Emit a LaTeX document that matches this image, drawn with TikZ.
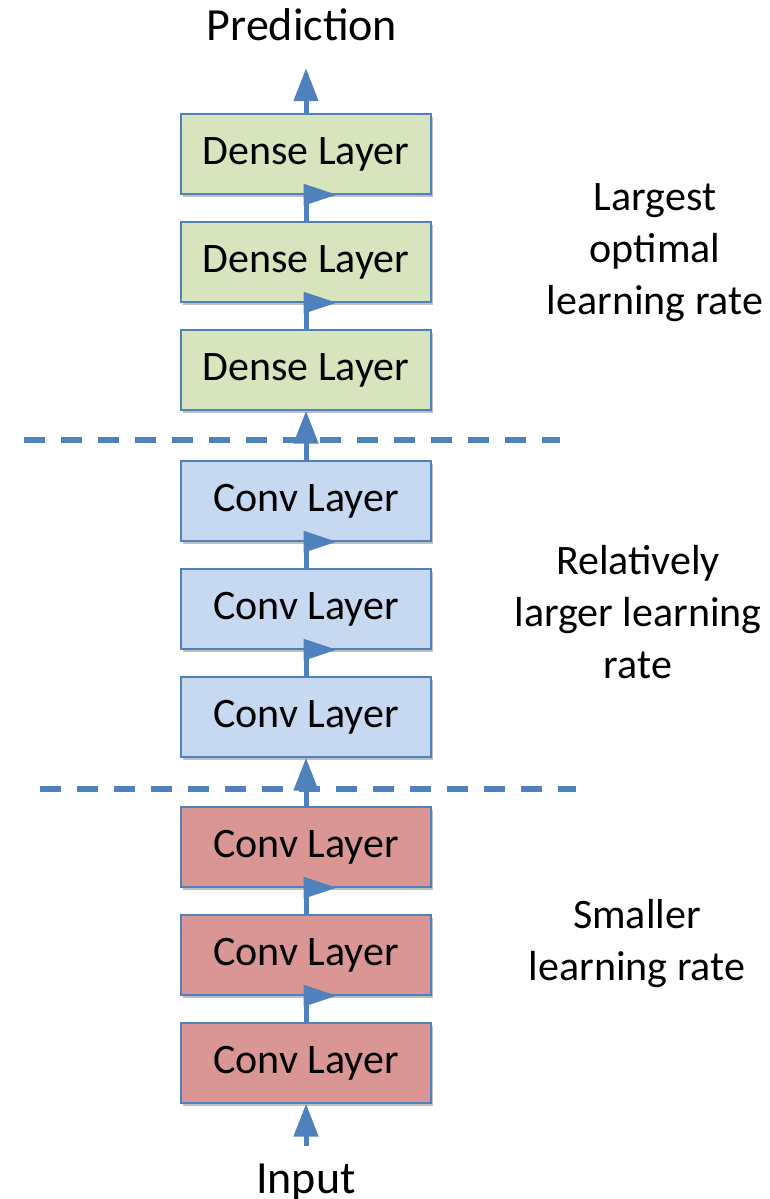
\documentclass[tikz,border=0pt]{standalone}
\usepackage{fontspec}
\setmainfont{Carlito}
\usepackage{tikz}
\usetikzlibrary{arrows.meta,positioning,shadows}
\definecolor{LineBlue}{HTML}{4F81BD}
\definecolor{DenseGreen}{HTML}{D7E4BD}
\definecolor{ConvBlue}{HTML}{C6D9F1}
\definecolor{ConvRed}{HTML}{D99694}
\tikzstyle{Layer} = [draw=LineBlue, line width=1.5pt, rectangle, minimum width=250pt, minimum height=80pt,
                     font=\fontsize{42}{50}\selectfont,
                     drop shadow={shadow xshift=2pt, shadow yshift=-3pt, opacity=0.25, fill=black}]
\tikzstyle{Dense} = [Layer, fill=DenseGreen]
\tikzstyle{ConvMid} = [Layer, fill=ConvBlue]
\tikzstyle{ConvLow} = [Layer, fill=ConvRed]
\tikzstyle{Io} = [inner sep=0pt, font=\fontsize{46}{54}\selectfont]
\tikzstyle{Note} = [align=center, inner sep=0pt, font=\fontsize{42}{52}\selectfont]
\tikzstyle{Arrow} = [-{Triangle[width=24pt,length=33pt]}, line width=5pt, LineBlue]
\tikzstyle{Link} = [line width=5pt, LineBlue]
\tikzstyle{Split} = [line width=5.5pt, LineBlue, dash pattern=on 21pt off 16pt]
% flag shaped head sitting on the bottom edge of the upper box
\newcommand{\flagat}[1]{\fill[LineBlue] (#1) ++(-2.5pt,11pt) -- ++(33pt,-11pt) -- ++(-33pt,-11pt) -- cycle;}

\begin{document}
\begin{tikzpicture}[x=1pt, y=1pt]
    \useasboundingbox (0,0) rectangle (769,1199);
    % layers, bottom to top
    \node[ConvLow] (low1) at (306,136)               {Conv Layer};
    \node[ConvLow] (low2) [above=26.5pt of low1]     {Conv Layer};
    \node[ConvLow] (low3) [above=26.5pt of low2]     {Conv Layer};
    \node[ConvMid] (mid1) [above=48.5pt of low3]     {Conv Layer};
    \node[ConvMid] (mid2) [above=26.5pt of mid1]     {Conv Layer};
    \node[ConvMid] (mid3) [above=26.5pt of mid2]     {Conv Layer};
    \node[Dense]   (top1) [above=49.5pt of mid3]     {Dense Layer};
    \node[Dense]   (top2) [above=26.5pt of top1]     {Dense Layer};
    \node[Dense]   (top3) [above=26.5pt of top2]     {Dense Layer};
    \node[Io]      (pred) [above=72pt of top3, xshift=-4pt] {Prediction};
    \node[Io]      (input) [below=60pt of low1]      {Input};
    % notes
    \node[Note] (notetop) at (655,946) {Largest\\optimal\\learning rate};
    \node[Note] (notemid) at (638,587) {Relatively\\larger learning\\rate};
    \node[Note] (notelow) at (637,255) {Smaller\\learning rate};
    % group borders
    \draw[Split] (24,759) -- (560,759);
    \draw[Split] (40,410) -- (576,410);
    % connections
    \draw[Arrow, shorten <=18pt] (input.north) -- (low1.south);
    \draw[Link] (low1.north) -- (low2.south); \flagat{low2.south}
    \draw[Link] (low2.north) -- (low3.south); \flagat{low3.south}
    \draw[Arrow] (low3.north) -- (mid1.south);
    \draw[Link] (mid1.north) -- (mid2.south); \flagat{mid2.south}
    \draw[Link] (mid2.north) -- (mid3.south); \flagat{mid3.south}
    \draw[Arrow] (mid3.north) -- (top1.south);
    \draw[Link] (top1.north) -- (top2.south); \flagat{top2.south}
    \draw[Link] (top2.north) -- (top3.south); \flagat{top3.south}
    \draw[Arrow, shorten >=27pt] (top3.north) -- (top3.north |- pred.south);
\end{tikzpicture}
\end{document}
